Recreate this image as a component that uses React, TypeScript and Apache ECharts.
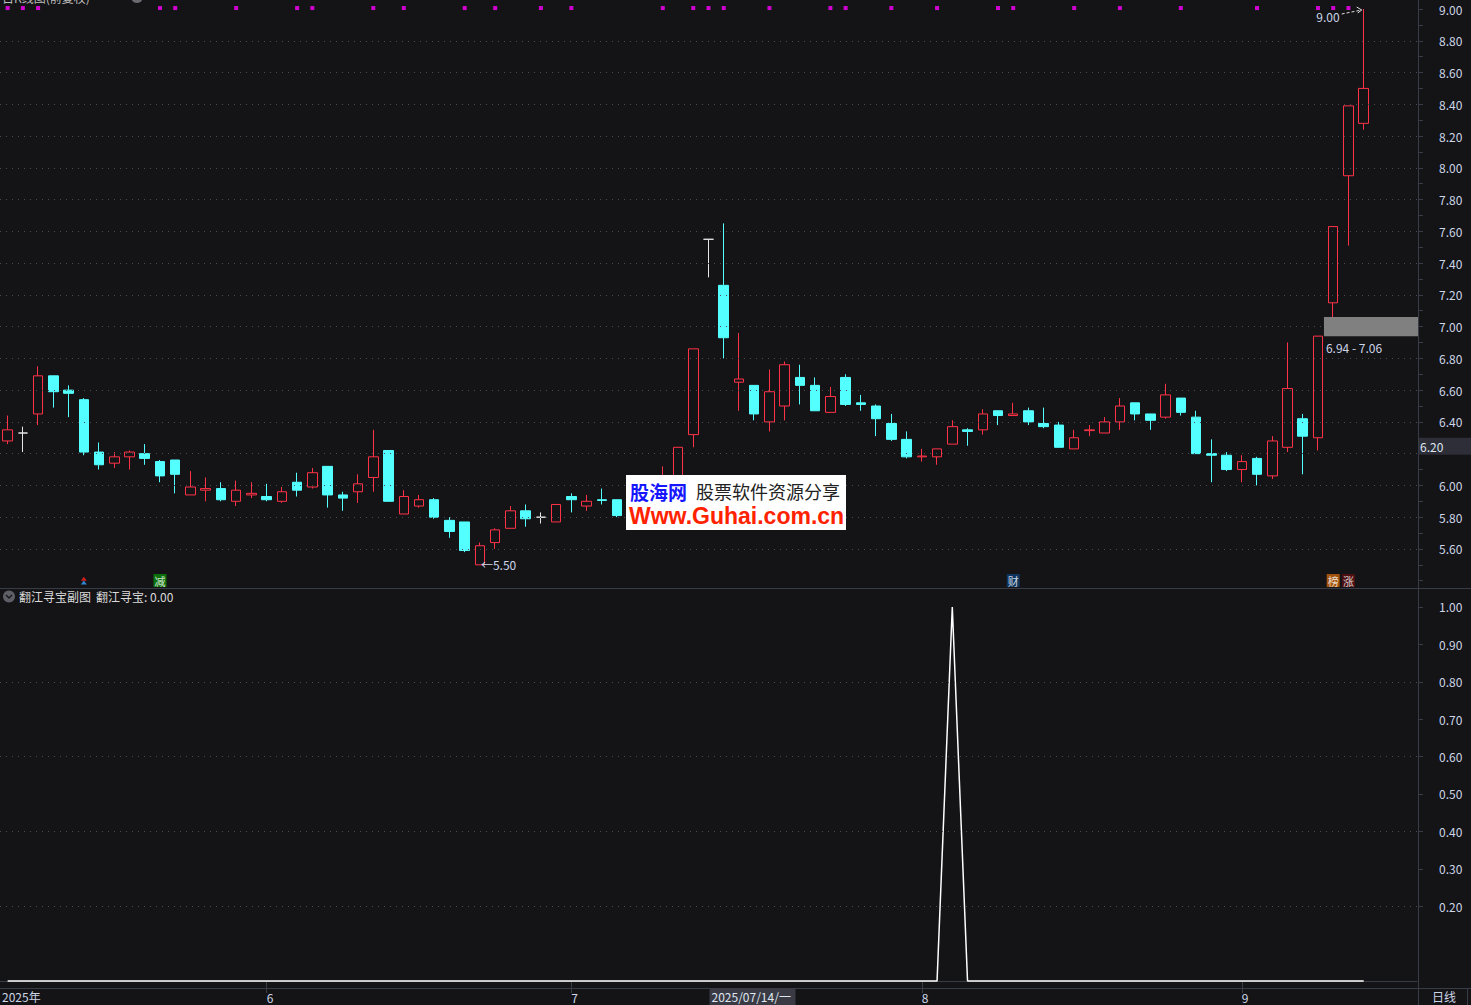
import React, { useEffect, useRef } from "react";
import * as echarts from "echarts";

// ---------- data ----------
const dates: string[] = [
  "2025-05-08","2025-05-09","2025-05-12","2025-05-13","2025-05-14","2025-05-15","2025-05-16","2025-05-19","2025-05-20","2025-05-21",
  "2025-05-22","2025-05-23","2025-05-26","2025-05-27","2025-05-28","2025-05-29","2025-05-30","2025-06-03","2025-06-04","2025-06-05",
  "2025-06-06","2025-06-09","2025-06-10","2025-06-11","2025-06-12","2025-06-13","2025-06-16","2025-06-17","2025-06-18","2025-06-19",
  "2025-06-20","2025-06-23","2025-06-24","2025-06-25","2025-06-26","2025-06-27","2025-06-30","2025-07-01","2025-07-02","2025-07-03",
  "2025-07-04","2025-07-07","2025-07-08","2025-07-09","2025-07-10","2025-07-11","2025-07-14","2025-07-15","2025-07-16","2025-07-17",
  "2025-07-18","2025-07-21","2025-07-22","2025-07-23","2025-07-24","2025-07-25","2025-07-28","2025-07-29","2025-07-30","2025-07-31",
  "2025-08-01","2025-08-04","2025-08-05","2025-08-06","2025-08-07","2025-08-08","2025-08-11","2025-08-12","2025-08-13","2025-08-14",
  "2025-08-15","2025-08-18","2025-08-19","2025-08-20","2025-08-21","2025-08-22","2025-08-25","2025-08-26","2025-08-27","2025-08-28",
  "2025-08-29","2025-09-01","2025-09-02","2025-09-03","2025-09-04","2025-09-05","2025-09-08","2025-09-09","2025-09-10","2025-09-11",
];

// [open, close, low, high]
const candles: number[][] = [
  [6.28, 6.35, 6.26, 6.44], [6.33, 6.33, 6.21, 6.37], [6.45, 6.69, 6.38, 6.75], [6.69, 6.59, 6.49, 6.69], [6.6, 6.58, 6.43, 6.63],
  [6.54, 6.21, 6.19, 6.55], [6.21, 6.13, 6.1, 6.27], [6.14, 6.18, 6.11, 6.21], [6.18, 6.21, 6.1, 6.22], [6.2, 6.17, 6.13, 6.26],
  [6.15, 6.06, 6.02, 6.16], [6.16, 6.07, 5.95, 6.16], [5.94, 5.99, 5.94, 6.09], [5.97, 5.98, 5.9, 6.05], [5.98, 5.91, 5.9, 6.02],
  [5.9, 5.97, 5.87, 6.03], [5.94, 5.95, 5.92, 6.02], [5.93, 5.91, 5.9, 6.01], [5.9, 5.96, 5.89, 5.99], [6.02, 5.97, 5.93, 6.08],
  [5.99, 6.08, 5.98, 6.11], [6.12, 5.94, 5.86, 6.12], [5.94, 5.92, 5.84, 5.96], [5.96, 6.01, 5.89, 6.07], [6.05, 6.18, 5.96, 6.35],
  [6.22, 5.9, 5.9, 6.22], [5.82, 5.93, 5.82, 5.97], [5.87, 5.91, 5.86, 5.94], [5.91, 5.8, 5.79, 5.92], [5.78, 5.71, 5.67, 5.8],
  [5.77, 5.59, 5.58, 5.77], [5.5, 5.62, 5.5, 5.64], [5.64, 5.72, 5.6, 5.73], [5.73, 5.84, 5.73, 5.87], [5.84, 5.79, 5.74, 5.88],
  [5.8, 5.8, 5.76, 5.83], [5.77, 5.88, 5.77, 5.88], [5.93, 5.91, 5.83, 5.95], [5.87, 5.9, 5.84, 5.94], [5.91, 5.905, 5.88, 5.98],
  [5.91, 5.81, 5.8, 5.91], [5.82, 5.88, 5.79, 5.91], [5.89, 5.96, 5.86, 5.99], [5.96, 6.06, 5.93, 6.12], [6.04, 6.24, 6.02, 6.24],
  [6.32, 6.86, 6.24, 6.86], [7.55, 7.55, 7.31, 7.55], [7.26, 6.93, 6.8, 7.65], [6.65, 6.67, 6.47, 6.96], [6.63, 6.45, 6.41, 6.63],
  [6.4, 6.59, 6.34, 6.73], [6.5, 6.76, 6.41, 6.78], [6.68, 6.63, 6.51, 6.76], [6.63, 6.47, 6.47, 6.68], [6.46, 6.56, 6.46, 6.62],
  [6.68, 6.51, 6.5, 6.7], [6.52, 6.51, 6.47, 6.57], [6.5, 6.42, 6.31, 6.51], [6.39, 6.29, 6.28, 6.45], [6.29, 6.18, 6.17, 6.34],
  [6.18, 6.185, 6.15, 6.23], [6.18, 6.23, 6.13, 6.23], [6.26, 6.37, 6.26, 6.41], [6.35, 6.34, 6.25, 6.36], [6.35, 6.45, 6.32, 6.48],
  [6.47, 6.44, 6.38, 6.47], [6.44, 6.45, 6.44, 6.52], [6.47, 6.4, 6.38, 6.49], [6.39, 6.37, 6.36, 6.49], [6.38, 6.24, 6.24, 6.4],
  [6.23, 6.3, 6.23, 6.35], [6.345, 6.35, 6.31, 6.38], [6.33, 6.4, 6.33, 6.43], [6.4, 6.5, 6.35, 6.55], [6.52, 6.45, 6.41, 6.52],
  [6.45, 6.41, 6.35, 6.45], [6.43, 6.57, 6.42, 6.64], [6.55, 6.46, 6.44, 6.55], [6.43, 6.2, 6.2, 6.47], [6.2, 6.19, 6.02, 6.29],
  [6.19, 6.1, 6.09, 6.21], [6.1, 6.15, 6.02, 6.19], [6.17, 6.07, 6.0, 6.18], [6.06, 6.28, 6.04, 6.31], [6.24, 6.61, 6.21, 6.9],
  [6.42, 6.31, 6.07, 6.45], [6.3, 6.94, 6.22, 6.94], [7.15, 7.63, 7.06, 7.63], [7.95, 8.39, 7.51, 8.39], [8.28, 8.5, 8.24, 9.0],
];

// 翻江寻宝 indicator values
const fjxbValues: number[] = [
  0, 0, 0, 0, 0, 0, 0, 0, 0, 0, 0, 0, 0, 0, 0, 0, 0, 0, 0, 0,
  0, 0, 0, 0, 0, 0, 0, 0, 0, 0, 0, 0, 0, 0, 0, 0, 0, 0, 0, 0,
  0, 0, 0, 0, 0, 0, 0, 0, 0, 0, 0, 0, 0, 0, 0, 0, 0, 0, 0, 0,
  0, 0, 1, 0, 0, 0, 0, 0, 0, 0, 0, 0, 0, 0, 0, 0, 0, 0, 0, 0,
  0, 0, 0, 0, 0, 0, 0, 0, 0, 0,
];

// magenta signal dots (bar indices)
const signalBars: number[] = [0, 1, 2, 10, 11, 15, 19, 20, 24, 26, 30, 32, 35, 37, 43, 45, 46, 47, 50, 54, 55, 58, 61, 65, 66, 70, 73, 77, 82, 86, 87, 88];

// event badges under the candles
const badgeBars: number[] = [10, 66, 87, 88];
const badgeTexts: string[] = ["减", "财", "榜", "涨"];
const badgeColors: string[] = ["#0a8a0a", "#0b3f73", "#c8650a", "#5a1010"];
const arrowBar = 5;

const priceLabels: string[] = ["5.60", "5.80", "6.00", "6.40", "6.60", "6.80", "7.00", "7.20", "7.40", "7.60", "7.80", "8.00", "8.20", "8.40", "8.60", "8.80", "9.00"];
const priceTickLabels: string[] = ["5.40", "5.50", "5.60", "5.70", "5.80", "5.90", "6.00", "6.10", "6.20", "6.30", "6.40", "6.50", "6.60", "6.70", "6.80", "6.90", "7.00", "7.10", "7.20", "7.30", "7.40", "7.50", "7.60", "7.70", "7.80", "7.90", "8.00", "8.10", "8.20", "8.30", "8.40", "8.50", "8.60", "8.70", "8.80", "8.90", "9.00"];
const priceGridLabels: string[] = ["5.60", "5.80", "6.00", "6.20", "6.40", "6.60", "6.80", "7.00", "7.20", "7.40", "7.60", "7.80", "8.00", "8.20", "8.40", "8.60", "8.80"];
const subLabels: string[] = ["0.20", "0.30", "0.40", "0.50", "0.60", "0.70", "0.80", "0.90", "1.00"];
const subGridLabels: string[] = ["0.20", "0.40", "0.60", "0.80"];
const monthBars: number[] = [17, 37, 60, 81];
const monthLabels: string[] = ["6", "7", "8", "9"];

// ---------- style ----------
const BG = "#141316";
const UP = "#ff3348";
const DOWN = "#54ffff";
const DOJI = "#e6e6e6";
const AXIS = "#383c47";
const LABEL = "#cdd6e8";
const GRIDC = "#4b4b53";
const FONT = "'Noto Sans CJK SC', 'Noto Sans', sans-serif";

const padCats = ["p1", "p2", "p3"];
const cats = [...dates, ...padCats];

export default function App() {
  const ref = useRef<HTMLDivElement>(null);
  useEffect(() => {
    const chart = echarts.init(ref.current!, undefined, { renderer: "svg" });

    const candleData = candles.map((c) =>
      c[0] === c[1]
        ? { value: c, itemStyle: { color: BG, color0: BG, borderColor: DOJI, borderColor0: DOJI } }
        : { value: c }
    );

    const signalTop = 9.006;
    const badgeY = 5.401;

    const option: any = {
      animation: false,
      backgroundColor: BG,
      textStyle: { fontFamily: FONT },
      grid: [
        { left: 0, right: 54, top: 0, height: 588 },
        { left: 0, right: 54, top: 589, height: 399 },
      ],
      xAxis: [
        { type: "category", gridIndex: 0, data: cats, show: false, boundaryGap: true },
        {
          type: "category",
          gridIndex: 1,
          data: cats,
          boundaryGap: true,
          axisLine: { show: true, lineStyle: { color: AXIS, width: 1 } },
          axisTick: {
            show: true,
            alignWithLabel: true,
            length: 12,
            lineStyle: { color: AXIS },
            interval: (i: number) => monthBars.includes(i),
          },
          axisLabel: {
            show: true,
            interval: (i: number) => monthBars.includes(i),
            formatter: (_v: string, i: number) => {
              const k = monthBars.indexOf(i);
              return k >= 0 ? monthLabels[k] : "";
            },
            align: "left",
            margin: 3,
            color: LABEL,
            fontSize: 12,
            fontFamily: FONT,
          },
          splitLine: { show: false },
        },
      ],
      yAxis: [
        {
          type: "value",
          gridIndex: 0,
          position: "right",
          offset: 1,
          min: 5.354,
          max: 9.0567,
          scale: true,
          axisLine: { show: true, lineStyle: { color: AXIS } },
          axisTick: { show: true, length: 5, lineStyle: { color: AXIS }, customValues: priceTickLabels.map(Number) },
          axisLabel: {
            show: true,
            customValues: priceLabels.map(Number),
            formatter: (v: number) => v.toFixed(2),
            margin: 21,
            color: LABEL,
            fontSize: 12,
            fontFamily: FONT,
          },
          splitLine: { show: false },
        },
        {
          type: "value",
          gridIndex: 1,
          position: "right",
          offset: 1,
          min: -0.0187,
          max: 1.048,
          axisLine: { show: true, lineStyle: { color: AXIS } },
          axisTick: { show: true, length: 5, lineStyle: { color: AXIS }, customValues: subLabels.map(Number) },
          axisLabel: {
            show: true,
            customValues: subLabels.map(Number),
            formatter: (v: number) => v.toFixed(2),
            margin: 21,
            color: LABEL,
            fontSize: 12,
            fontFamily: FONT,
          },
          splitLine: { show: false },
        },
      ],
      series: [
        {
          type: "candlestick",
          xAxisIndex: 0,
          yAxisIndex: 0,
          data: candleData,
          barWidth: 10,
          itemStyle: { color: BG, color0: DOWN, borderColor: UP, borderColor0: DOWN, borderWidth: 1 },
          emphasis: { disabled: true },
          markLine: {
            silent: true,
            symbol: ["none", "none"],
            label: { show: false },
            lineStyle: { color: GRIDC, type: [1, 5], width: 1 },
            emphasis: { disabled: true },
            data: priceGridLabels.map((v) => ({ yAxis: Number(v) })),
          },
          z: 3,
        },
        {
          type: "scatter",
          xAxisIndex: 0,
          yAxisIndex: 0,
          symbol: "rect",
          symbolSize: 4,
          itemStyle: { color: "#ff00ff" },
          data: signalBars.map((i) => [cats[i], signalTop]),
          silent: true,
          z: 4,
        },
        {
          type: "scatter",
          xAxisIndex: 0,
          yAxisIndex: 0,
          symbol: "rect",
          symbolSize: [13, 13],
          silent: true,
          data: badgeBars.map((i, k) => ({
            value: [cats[i], badgeY],
            itemStyle: { color: badgeColors[k] },
            label: {
              show: true,
              position: "inside",
              formatter: badgeTexts[k],
              color: "#ffffff",
              fontSize: 11,
              fontFamily: FONT,
            },
          })),
          z: 4,
        },
        {
          type: "scatter",
          xAxisIndex: 0,
          yAxisIndex: 0,
          symbol: "triangle",
          symbolSize: [6, 4],
          silent: true,
          data: [
            { value: [cats[arrowBar], 5.412], itemStyle: { color: "#ff2020" } },
            { value: [cats[arrowBar], 5.388], itemStyle: { color: "#3aa0ff" } },
          ],
          z: 4,
        },
        {
          type: "line",
          xAxisIndex: 1,
          yAxisIndex: 1,
          data: fjxbValues,
          symbol: "none",
          lineStyle: { color: "#ffffff", width: 1.5 },
          itemStyle: { color: "#ffffff" },
          silent: true,
          markLine: {
            silent: true,
            symbol: ["none", "none"],
            label: { show: false },
            lineStyle: { color: GRIDC, type: [1, 5], width: 1 },
            emphasis: { disabled: true },
            data: subGridLabels.map((v) => ({ yAxis: Number(v) })),
          },
        },
      ],
    };

    chart.setOption(option);

    const px = (i: number, v: number) =>
      chart.convertToPixel({ xAxisIndex: 0, yAxisIndex: 0 }, [cats[i], v]) as number[];

    const low = px(31, 5.5);
    const high = px(89, 9.0);
    const gapTop = px(86, 7.06);
    const gapBot = px(86, 6.94);
    const tagY = px(0, 6.2)[1];
    const cursor = chart.convertToPixel({ xAxisIndex: 1, yAxisIndex: 1 }, [cats[46], 0]) as number[];

    const txt = (x: number, y: number, text: string, extra: any = {}, z = 100) => ({
      type: "text",
      x,
      y,
      z,
      style: { text, fill: LABEL, font: `12px ${FONT}`, textVerticalAlign: "middle", ...extra },
    });

    const graphic: any[] = [
      // panel separators
      { type: "line", z: 50, shape: { x1: 0, y1: 588.5, x2: 1471, y2: 588.5 }, style: { stroke: AXIS, lineWidth: 1 } },
      { type: "line", z: 50, shape: { x1: 0, y1: 988.5, x2: 1471, y2: 988.5 }, style: { stroke: AXIS, lineWidth: 1 } },
      { type: "line", z: 50, shape: { x1: 1418.5, y1: 0, x2: 1418.5, y2: 1005 }, style: { stroke: AXIS, lineWidth: 1 } },
      { type: "line", z: 50, shape: { x1: 1467.5, y1: 988, x2: 1467.5, y2: 1005 }, style: { stroke: AXIS, lineWidth: 1 } },
      // top-left (cut) title
      txt(2, -3, "日K线图(前复权)", { fill: "#bbbbbb" }),
      { type: "circle", z: 100, shape: { cx: 137, cy: -3, r: 6 }, style: { fill: "#6a6a70" } },
      // low / high labels
      txt(low[0] + 1, low[1], "←5.50"),
      txt(high[0] - 24, high[1] + 7, "9.00", { textAlign: "right" }),
      { type: "line", z: 100, shape: { x1: high[0] - 22, y1: high[1] + 5, x2: high[0] - 2, y2: high[1] + 1 }, style: { stroke: "#e0e0e0", lineWidth: 1, lineDash: [3, 2] } },
      { type: "polyline", z: 100, shape: { points: [[high[0] - 7, high[1] - 2], [high[0] - 2, high[1] + 1], [high[0] - 6, high[1] + 4]] }, style: { stroke: "#e0e0e0", lineWidth: 1, fill: "none" } },
      // gap area
      { type: "rect", z: 90, shape: { x: gapTop[0] + 6, y: gapTop[1], width: 1418 - gapTop[0] - 6, height: gapBot[1] - gapTop[1] }, style: { fill: "#808080" } },
      txt(gapTop[0] + 8, gapBot[1] + 11, "6.94 - 7.06"),
      // price tag
      { type: "rect", z: 100, shape: { x: 1419, y: tagY - 16, width: 52, height: 17 }, style: { fill: "#2e2e38" } },
      txt(1420, tagY - 7.5, "6.20", { fill: "#dfe6f2" }, 101),
      // watermark
      { type: "rect", z: 110, shape: { x: 626, y: 475, width: 220, height: 55 }, style: { fill: "#ffffff" } },
      txt(630, 491, "股海网", { fill: "#1515ff", font: `bold 19px ${FONT}`, lineHeight: 19 }, 120),
      txt(696, 491, "股票软件资源分享", { fill: "#222222", font: `18px ${FONT}`, lineHeight: 18 }, 120),
      txt(629, 516, "Www.Guhai.com.cn", { fill: "#ff2200", font: `bold 23px 'Liberation Sans', sans-serif`, lineHeight: 20 }, 120),
      // sub panel title
      { type: "circle", z: 100, shape: { cx: 9, cy: 596.5, r: 6 }, style: { fill: "#5e5e66" } },
      { type: "polyline", z: 101, shape: { points: [[6, 595], [9, 598], [12, 595]] }, style: { stroke: "#1a1a1e", lineWidth: 1.5, fill: "none" } },
      txt(19, 596.5, "翻江寻宝副图", { fill: "#dadada" }),
      txt(96, 596.5, "翻江寻宝: 0.00", { fill: "#dadada" }),
      // x axis extras
      txt(2, 996.5, "2025年"),
      { type: "rect", z: 100, shape: { x: cursor[0] + 1, y: 989, width: 86, height: 16 }, style: { fill: "#3a3a44" } },
      txt(cursor[0] + 3, 996.5, "2025/07/14/一", { fill: "#dfe6f2" }, 101),
      txt(1432, 996.5, "日线"),
    ];

    chart.setOption({ graphic });

    return () => chart.dispose();
  }, []);

  return <div ref={ref} style={{ position: "fixed", left: 0, top: 0, width: 1471, height: 1005 }} />;
}
